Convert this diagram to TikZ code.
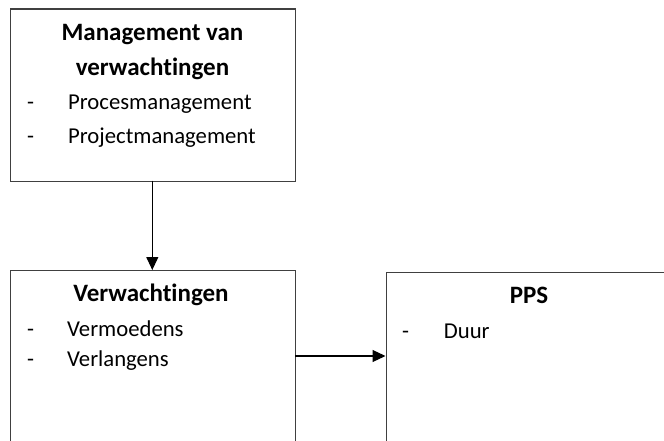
\documentclass[tikz,border=0pt]{standalone}
\usepackage{fontspec}
\setmainfont{Carlito}[Ligatures=NoCommon]
\usetikzlibrary{arrows.meta}
\definecolor{boxline}{HTML}{404040}
\tikzset{
  box/.style={draw=boxline, line width=1.1pt, rectangle, inner sep=0pt, anchor=north west},
  title/.style={font=\fontsize{25}{28}\selectfont\bfseries, anchor=base, inner sep=0pt},
  item/.style={font=\fontsize{22.7}{26}\selectfont, anchor=base west, inner sep=0pt},
  conn/.style={draw=black, line width=1.1pt, -{Triangle[length=13pt,width=12pt]}}
}
\begin{document}
\begin{tikzpicture}[x=1pt,y=-1pt]
\useasboundingbox (0,0) rectangle (664,441);
\fill[white] (0,0) rectangle (664,441);
\begin{scope}
\clip (0,0) rectangle (664,441);
\node[box, minimum width=285pt, minimum height=172pt] (mv) at (10,8.5) {};
\node[box, minimum width=285pt, minimum height=200pt] (vw) at (10,270) {};
\node[box, minimum width=295pt, minimum height=200pt] (pps) at (385.5,271.5) {};
\end{scope}
% top box texts
\node[title] (t1a) at (152.5,40.7) {Management van};
\node[title] (t1b) at (152.5,76) {verwachtingen};
\node[item] (d1) at (27,110) {-};
\node[item] (i1) at (68,110) {Procesmanagement};
\node[item] (d2) at (27,143) {-};
\node[item] (i2) at (68,143) {Projectmanagement};
% bottom left texts
\node[title] (t2) at (151,301.7) {Verwachtingen};
\node[item] (d3) at (27,336.7) {-};
\node[item] (i3) at (67,336.7) {Vermoedens};
\node[item] (d4) at (27,366.7) {-};
\node[item] (i4) at (67,366.7) {Verlangens};
% right texts
\node[title] (t3) at (529,303.3) {PPS};
\node[item] (d5) at (402,338.3) {-};
\node[item] (i5) at (443.7,338.3) {Duur};
% connectors
\coordinate (a1) at (152.3,180.5);
\coordinate (a2) at (152.3,270);
\draw[conn] (a1) -- (a2);
\coordinate (b1) at (295,356);
\coordinate (b2) at (385.5,356);
\draw[conn] (b1) -- (b2);
\end{tikzpicture}
\end{document}
